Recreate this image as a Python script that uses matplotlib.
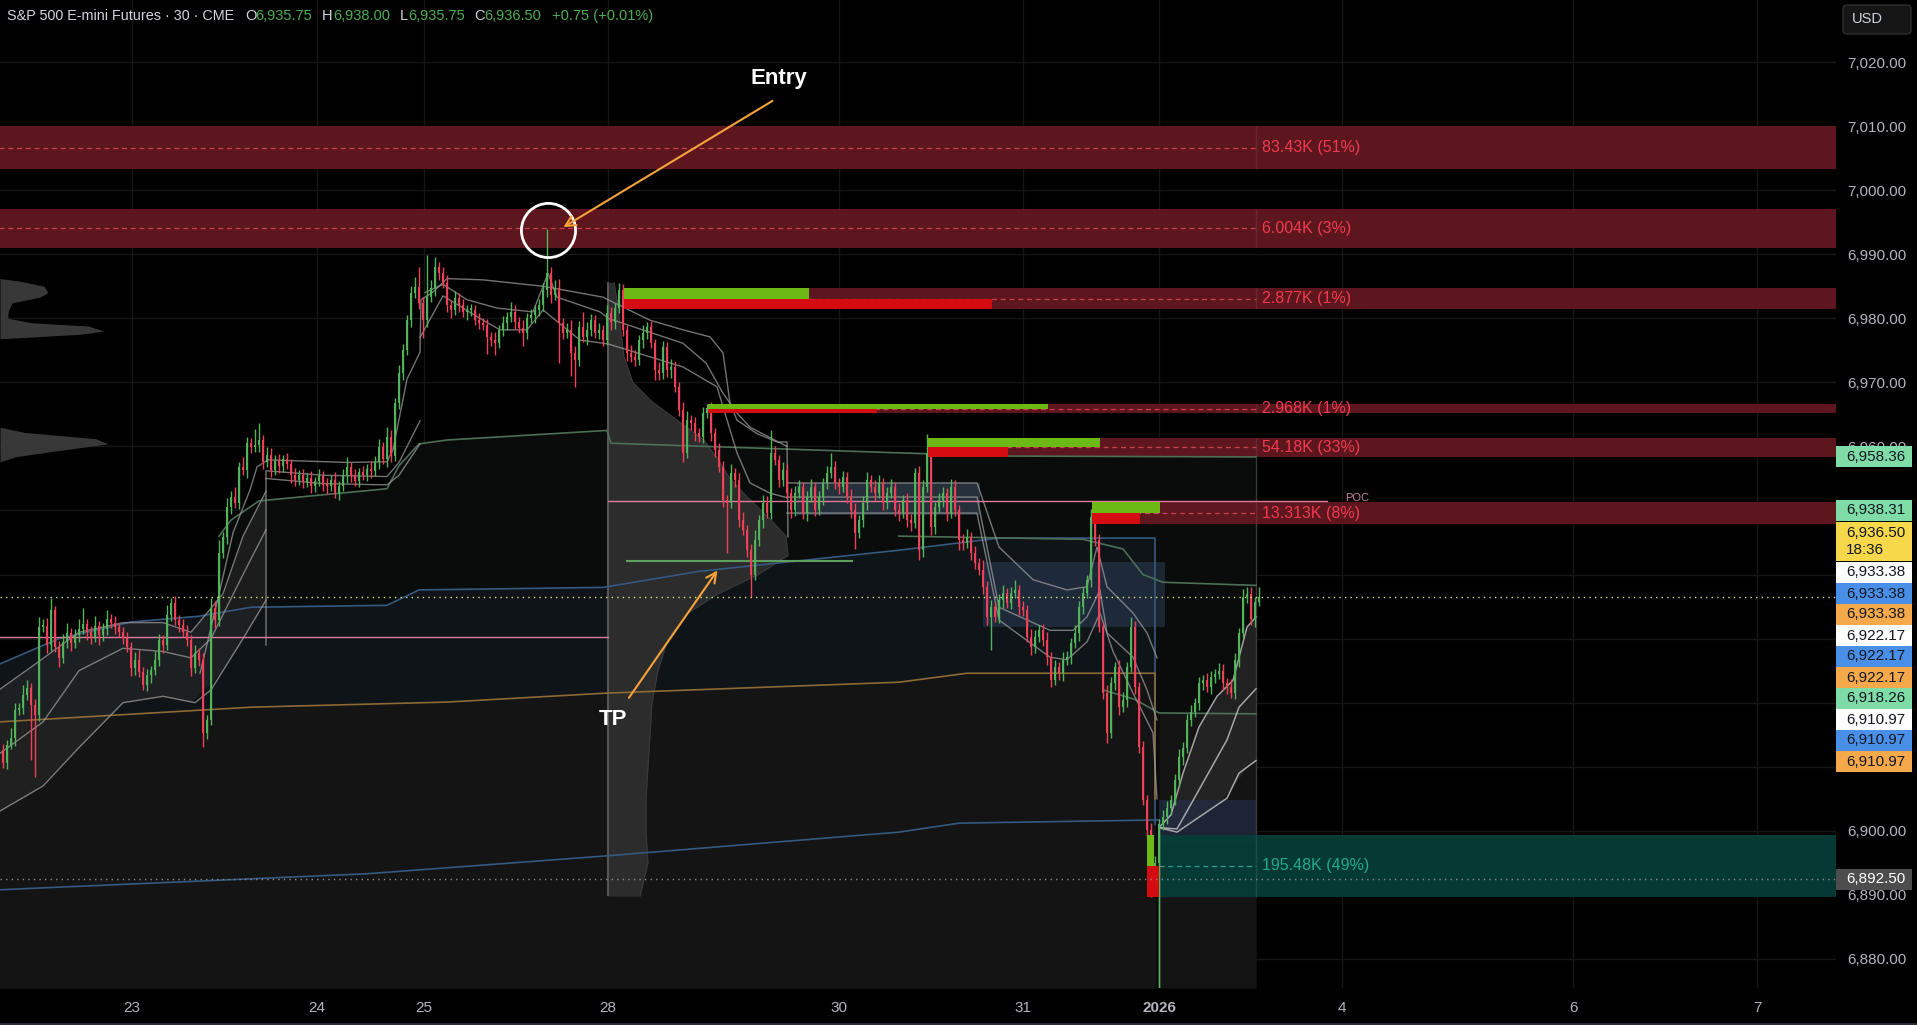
import numpy as np
import matplotlib.pyplot as plt
from matplotlib.patches import Rectangle, FancyBboxPatch

plt.rcParams['font.family'] = ['Liberation Sans', 'DejaVu Sans']

W, H = 1917, 1025

# ---------------- data ----------------
first_open = 6912.6
closes = [
    6910.6, 6913.4, 6914.5, 6918.9, 6919.2, 6921.2, 6922.3, 6919.6, 6918.1, 6931.8, 6932.0, 6929.0, 6934.5, 6928.7, 6927.0,
    6929.5, 6930.9, 6929.3, 6930.5, 6931.5, 6932.3, 6931.0, 6930.2, 6932.0, 6930.5, 6931.5, 6933.0, 6932.4, 6931.8, 6931.0,
    6930.1, 6928.7, 6925.4, 6926.7, 6924.8, 6922.8, 6924.3, 6925.1, 6926.7, 6929.8, 6929.0, 6933.7, 6935.6, 6932.9, 6932.1,
    6931.0, 6929.8, 6925.4, 6927.8, 6926.7, 6915.3, 6917.3, 6934.8, 6932.9, 6943.4, 6945.9, 6950.5, 6952.1, 6951.2, 6956.8,
    6956.3, 6960.5, 6959.9, 6960.2, 6961.0, 6957.6, 6958.7, 6956.3, 6957.8, 6957.0, 6958.0, 6957.2, 6955.5, 6954.8, 6955.5,
    6954.5, 6955.0, 6953.9, 6954.6, 6955.4, 6954.0, 6953.8, 6954.8, 6952.7, 6953.8, 6955.5, 6956.8, 6955.5, 6954.6, 6956.0,
    6955.6, 6956.5, 6956.2, 6957.5, 6959.9, 6958.0, 6961.5, 6958.5, 6966.8, 6971.5, 6975.0, 6979.7, 6983.9, 6984.9, 6982.4,
    6979.7, 6983.3, 6984.7, 6988.0, 6987.0, 6985.5, 6982.0, 6981.3, 6983.2, 6982.0, 6981.0, 6981.3, 6981.3, 6979.7, 6979.3,
    6978.9, 6977.1, 6976.6, 6976.1, 6978.2, 6979.3, 6980.2, 6981.0, 6979.4, 6978.5, 6977.7, 6980.0, 6980.5, 6981.3, 6982.0,
    6984.4, 6987.0, 6983.6, 6984.7, 6979.3, 6977.7, 6978.2, 6974.6, 6973.5, 6978.6, 6977.1, 6978.2, 6979.7, 6977.7, 6978.2,
    6976.6, 6980.8, 6979.4, 6981.6, 6984.4, 6978.2, 6974.6, 6974.0, 6973.5, 6976.6, 6977.7, 6978.6, 6976.1, 6971.9, 6971.4,
    6975.5, 6971.9, 6972.4, 6969.3, 6965.7, 6959.0, 6964.1, 6963.6, 6962.1, 6961.5, 6965.2, 6966.0, 6962.1, 6959.4, 6956.8,
    6951.6, 6951.2, 6955.8, 6954.8, 6948.5, 6947.0, 6943.8, 6939.9, 6945.4, 6948.5, 6951.2, 6949.6, 6959.0, 6957.9, 6954.8,
    6956.3, 6952.7, 6950.1, 6952.7, 6953.7, 6949.6, 6952.1, 6953.7, 6950.1, 6952.1, 6954.3, 6955.8, 6956.8, 6954.3, 6953.7,
    6955.2, 6952.1, 6950.1, 6946.5, 6948.5, 6951.2, 6954.8, 6953.7, 6952.7, 6954.3, 6951.2, 6952.7, 6953.7, 6950.1, 6949.6,
    6951.6, 6948.5, 6948.0, 6955.8, 6943.8, 6953.7, 6959.0, 6947.4, 6950.5, 6951.6, 6952.7, 6949.6, 6953.7, 6950.1, 6945.4,
    6944.9, 6945.9, 6943.4, 6941.8, 6940.7, 6938.0, 6933.4, 6934.9, 6933.4, 6936.0, 6937.1, 6935.6, 6937.1, 6937.6, 6934.9,
    6934.5, 6930.3, 6928.7, 6930.3, 6931.3, 6929.8, 6927.1, 6923.5, 6925.6, 6924.6, 6926.7, 6927.1, 6929.3, 6930.9, 6934.9,
    6937.1, 6939.2, 6949.0, 6945.4, 6931.8, 6921.5, 6915.3, 6923.0, 6925.6, 6919.3, 6920.4, 6925.6, 6931.8, 6922.5, 6913.1,
    6904.8, 6900.1, 6891.9, 6895.0, 6901.0, 6902.2, 6903.5, 6904.8, 6907.9, 6911.5, 6913.0, 6917.3, 6918.5, 6920.0, 6923.0,
    6923.5, 6922.5, 6924.0, 6924.5, 6925.0, 6923.0, 6922.5, 6921.5, 6926.7, 6930.9, 6936.5, 6937.0, 6933.0, 6935.7, 6936.5,
]
wick_up = [
    1.0, 0.8, 1.5, 1.0, 0.8, 1.5, 1.2, 0.8, 1.0, 1.5, 1.0, 1.2, 1.8, 0.6, 1.0,
    1.2, 1.5, 0.8, 1.0, 1.5, 2.5, 0.8, 1.0, 1.6, 0.7, 1.0, 1.5, 0.8, 1.2, 0.6,
    0.8, 1.0, 0.7, 1.2, 1.5, 0.8, 1.0, 0.6, 1.4, 1.0, 0.8, 1.5, 0.7, 1.0, 0.8,
    0.9, 1.1, 0.8, 1.2, 0.7, 1.0, 0.8, 1.5, 1.0, 2.0, 0.8, 1.5, 1.0, 1.5, 0.8,
    1.5, 1.0, 0.8, 2.5, 2.7, 0.8, 1.2, 1.0, 0.8, 1.0, 0.7, 1.0, 0.8, 1.2, 0.8,
    1.0, 0.8, 1.2, 0.7, 1.0, 0.8, 1.0, 0.7, 1.2, 0.8, 1.0, 1.5, 0.8, 1.0, 0.7,
    1.0, 0.8, 1.2, 1.0, 1.3, 0.8, 1.5, 1.0, 0.8, 1.2, 1.0, 0.8, 1.2, 1.5, 3.1,
    1.0, 6.6, 1.2, 1.5, 0.8, 1.0, 1.2, 0.8, 1.0, 0.8, 1.0, 0.7, 1.0, 0.8, 1.2,
    0.8, 1.0, 0.7, 1.2, 0.8, 1.0, 0.8, 1.5, 1.0, 0.8, 1.2, 0.8, 1.0, 0.7, 1.0,
    1.1, 7.0, 1.0, 1.2, 1.5, 0.8, 1.0, 1.5, 1.0, 1.0, 2.4, 1.2, 1.0, 0.8, 1.0,
    0.8, 1.2, 1.0, 0.8, 1.1, 1.0, 0.8, 1.2, 1.0, 0.8, 1.2, 0.8, 1.0, 0.7, 1.2,
    1.0, 0.8, 1.2, 1.0, 0.8, 1.2, 1.5, 0.8, 1.0, 0.7, 1.0, 0.6, 1.0, 0.8, 1.2,
    1.0, 0.8, 1.5, 0.8, 1.0, 1.2, 0.8, 1.0, 1.5, 0.8, 1.2, 1.0, 3.6, 1.0, 0.8,
    1.2, 1.0, 0.8, 1.2, 1.0, 0.8, 1.0, 1.2, 0.8, 1.0, 0.8, 1.2, 2.2, 1.0, 0.8,
    1.0, 0.8, 1.2, 1.0, 0.8, 1.0, 1.2, 0.8, 1.0, 1.2, 0.8, 1.0, 1.2, 0.8, 1.0,
    0.8, 1.2, 1.0, 0.8, 1.2, 1.0, 3.0, 1.0, 0.8, 1.2, 1.0, 0.8, 1.2, 1.0, 0.8,
    1.0, 1.2, 0.8, 1.0, 0.8, 1.5, 1.0, 1.2, 0.8, 1.0, 1.2, 0.8, 1.0, 1.5, 0.8,
    1.0, 0.8, 1.2, 1.0, 0.8, 1.0, 1.2, 0.8, 1.0, 0.8, 1.2, 1.0, 0.8, 1.2, 1.0,
    1.0, 0.8, 1.2, 1.5, 1.0, 0.8, 1.2, 1.0, 0.8, 1.0, 1.2, 0.8, 1.5, 1.0, 0.8,
    1.0, 0.8, 1.2, 1.0, 0.8, 1.0, 1.2, 0.8, 1.0, 1.2, 0.8, 1.0, 1.2, 0.8, 1.0,
    0.8, 1.2, 1.0, 0.8, 1.2, 1.0, 0.8, 1.2, 1.0, 0.8, 1.2, 1.0, 1.0, 0.8, 1.5,
]
wick_dn = [
    0.8, 1.0, 0.7, 1.2, 0.8, 1.0, 0.8, 8.5, 9.7, 1.0, 0.8, 1.2, 1.0, 0.8, 1.5,
    0.8, 1.0, 1.2, 0.7, 1.0, 0.8, 1.2, 1.0, 0.8, 1.5, 0.8, 1.0, 0.7, 1.0, 0.8,
    1.0, 0.8, 1.2, 1.0, 0.8, 0.8, 1.0, 1.2, 0.8, 1.0, 1.2, 0.8, 1.0, 0.8, 1.0,
    0.8, 1.0, 1.2, 0.8, 1.0, 2.2, 1.0, 0.8, 1.2, 1.0, 0.8, 1.2, 1.0, 0.8, 1.0,
    0.8, 1.2, 1.0, 0.8, 1.0, 1.2, 0.8, 1.0, 0.8, 1.2, 1.0, 0.8, 1.2, 1.0, 0.8,
    1.0, 0.8, 1.2, 1.0, 0.8, 1.0, 1.2, 0.8, 0.7, 1.0, 0.8, 1.2, 1.0, 0.8, 1.0,
    0.8, 1.0, 1.2, 0.8, 1.0, 0.8, 1.2, 1.0, 0.8, 1.0, 1.2, 0.8, 1.0, 0.8, 1.0,
    2.7, 1.0, 0.8, 1.2, 1.0, 0.8, 1.0, 1.2, 0.8, 1.0, 0.8, 1.2, 1.0, 0.8, 1.0,
    0.8, 2.6, 1.0, 1.8, 0.8, 1.0, 1.2, 0.8, 1.0, 0.8, 2.0, 1.0, 0.8, 1.2, 1.0,
    0.8, 1.0, 1.2, 0.8, 6.3, 1.0, 0.8, 3.6, 4.2, 1.0, 0.8, 1.2, 1.0, 0.8, 1.0,
    1.0, 0.8, 1.2, 1.0, 0.8, 1.0, 1.2, 0.8, 1.0, 0.8, 1.2, 1.0, 0.8, 1.5, 1.0,
    0.8, 1.0, 1.2, 0.8, 1.0, 1.5, 0.8, 1.0, 1.2, 0.8, 1.0, 0.8, 1.2, 1.0, 0.8,
    1.0, 7.8, 0.8, 1.2, 1.0, 0.8, 1.0, 3.4, 0.8, 1.0, 1.2, 0.8, 1.0, 0.8, 1.2,
    1.0, 0.8, 1.2, 1.0, 0.8, 1.0, 1.2, 0.8, 1.0, 0.8, 1.2, 1.0, 0.8, 1.0, 1.2,
    0.8, 1.0, 1.2, 2.5, 0.8, 1.0, 1.2, 0.8, 1.0, 0.8, 1.2, 1.0, 0.8, 1.0, 1.2,
    0.8, 1.0, 1.2, 0.8, 1.5, 1.0, 0.8, 1.2, 1.0, 0.8, 1.0, 1.2, 0.8, 1.0, 1.5,
    1.0, 0.8, 1.2, 1.0, 0.8, 1.0, 1.2, 5.2, 0.8, 1.0, 1.2, 0.8, 1.0, 0.8, 1.2,
    1.0, 0.8, 1.2, 1.0, 0.8, 1.0, 1.2, 1.0, 0.8, 1.0, 1.2, 0.8, 1.0, 0.8, 1.2,
    1.0, 0.8, 1.2, 1.0, 0.8, 1.0, 1.6, 0.8, 1.0, 1.2, 0.8, 1.0, 0.8, 1.2, 1.0,
    0.8, 1.2, 2.2, 1.0, 22.0, 0.8, 1.2, 1.0, 0.8, 1.0, 1.2, 0.8, 1.0, 0.8, 1.2,
    1.0, 0.8, 1.2, 1.0, 0.8, 1.0, 1.2, 0.8, 1.0, 1.2, 0.8, 1.0, 0.8, 1.2, 0.6,
]

# day labels (bar positions)
day_pos = [32.25, 78.5, 105.25, 151.25, 209, 255, 289, 334.75, 392.5, 438.5]
day_lbl = ['23', '24', '25', '28', '30', '31', '2026', '4', '6', '7']

# supply / demand zones
zone_lo = [7003.3, 6991.0, 6981.4, 6965.2, 6958.4, 6947.9, 6889.7]
zone_hi = [7010.0, 6997.1, 6984.7, 6966.6, 6961.3, 6951.3, 6899.4]
zone_start = [-1, -1, 155.3, 176.3, 231.3, 272.3, 289.0]
zone_text = ['83.43K (51%)', '6.004K (3%)', '2.877K (1%)', '2.968K (1%)',
             '54.18K (33%)', '13.313K (8%)', '195.48K (49%)']
zone_bull = [False, False, False, False, False, False, True]
# buy / sell volume bars at zone origin
vb_start = [None, None, 155.3, 176.3, 231.3, 272.3, 286.0]
vb_green_end = [None, None, 201.5, 261.25, 274.25, 289.25, 287.75]
vb_red_end = [None, None, 247.25, 218.5, 251.25, 284.25, 289.0]

# indicator lines (bar, price knots)
blue_low = ([-1, 91, 151, 224, 239, 289], [6890.8, 6893.3, 6896.1, 6899.8, 6901.2, 6901.7])
blue_mid = ([-1, 14, 32, 49, 62, 96, 104, 150, 174, 224, 249, 288, 288],
            [6926, 6930, 6932.6, 6933.5, 6934.9, 6935.2, 6937.6, 6938, 6940.5, 6943.8, 6945.7, 6945.7, 6901])
orange = ([-1, 62, 111, 151, 224, 241, 288, 288],
          [6917, 6919.3, 6920.1, 6921.5, 6923.2, 6924.6, 6924.6, 6905])
green_top = ([54, 57, 64, 96, 99, 104, 111, 151, 152, 224, 249, 313.25],
             [6946, 6948.5, 6951.5, 6953.4, 6957, 6960.4, 6961, 6962.5, 6960.5, 6959, 6958.5, 6958.36])
green_mid = ([224, 270, 280, 285, 290, 313.25], [6946, 6945.5, 6944, 6940, 6938.8, 6938.31])
green_low = ([275, 283, 289, 313.25], [6922, 6920.5, 6918.4, 6918.26])

grey_lines = [
    ([-1, 8, 19, 30, 40, 47, 55, 60, 65.75], [6922, 6926, 6931, 6932.5, 6932.5, 6931, 6937, 6946, 6953]),
    ([-1, 10, 19, 30, 40, 47, 52, 60, 65.75], [6912, 6917, 6925, 6928.5, 6928, 6927, 6930, 6940, 6947]),
    ([-1, 10, 19, 30, 40, 48, 52, 60, 65.75], [6903, 6907, 6913, 6920, 6921, 6920, 6922, 6930, 6936]),
    ([49.25, 54.25, 57.5, 61.75, 63.5, 66.25, 86, 96, 97.5, 101, 104.25, 104.5, 107.5, 111, 120, 135, 150, 151.25,
      161.75, 170, 176.75, 180, 181.75, 183.5, 188.5, 193.5, 196, 196.25],
     [6924.6, 6937.6, 6946.5, 6953.2, 6956.8, 6957.9, 6957.5, 6957.6, 6959.5, 6970.5, 6974.7, 6982.9, 6984.1, 6986.2,
      6986, 6985, 6983.3, 6982.9, 6979.7, 6978.2, 6977.1, 6974.6, 6966.8, 6964.1, 6962, 6960.7, 6960.7, 6945.9]),
    ([65.75, 65.75, 80, 96, 99, 104.25], [6929, 6956.2, 6955.5, 6955.3, 6957.5, 6964]),
    ([65.75, 80, 96, 99, 104.25], [6955, 6954.2, 6954, 6955.5, 6960.4]),
    ([105.5, 110, 116, 123.5, 132.5, 136.25, 138.5, 149.25, 151.25, 170, 175.75, 180, 183.5, 186.75, 196],
     [6984, 6985.3, 6982.9, 6981.6, 6981, 6987, 6983.3, 6981, 6980, 6976.1, 6973, 6968.3, 6965.2, 6963, 6960]),
    ([104.25, 110, 120, 124.25, 131, 135, 144.25, 151.25, 170, 178.5, 183.5, 186.75, 191.75, 196],
     [6977, 6983.5, 6979.7, 6978.2, 6978.2, 6981.3, 6976.6, 6976, 6972.4, 6969.3, 6959, 6954.3, 6952.7, 6952]),
    ([196, 243.5, 249, 257.5, 266, 271, 273.5, 276, 282.5, 286, 288.5],
     [6954.3, 6954.3, 6944.3, 6939.2, 6937.6, 6938.1, 6944.3, 6938.1, 6934, 6930.9, 6927]),
    ([196, 243.5, 249, 261.75, 267.5, 271, 274.25, 276, 282.5, 286, 288.5],
     [6952.1, 6952.1, 6934.9, 6931.3, 6931.3, 6933.4, 6937.6, 6930.9, 6927.1, 6922, 6917.3]),
    ([196, 243.5, 249, 261.75, 266, 271, 274.25, 277.5, 282.5, 287.5, 288.5],
     [6949.6, 6949.6, 6932.9, 6927.1, 6926.7, 6929.5, 6934, 6928, 6921.5, 6915.3, 6905]),
]
# post-gap VWAP band (end values match the price tags)
band_up = ([289, 292, 295, 299, 303.5, 307.5, 311, 313.25], [6900.5, 6902.5, 6909, 6916.2, 6921, 6923.5, 6931.8, 6933.38])
band_mid = ([289, 293.5, 299, 306, 309, 313.25], [6900.5, 6900.3, 6906.4, 6914.2, 6919.3, 6922.17])
band_lo = ([289, 293.5, 306, 309, 313.25], [6900.5, 6899.8, 6905.1, 6909, 6910.97])

# volume profiles: price levels and width (in bars)
vp_price = [6985.6, 6982, 6978, 6974, 6970, 6967, 6964, 6961, 6958, 6955, 6952, 6949, 6946, 6943, 6940,
            6937, 6934, 6930, 6925, 6920, 6915, 6910, 6905, 6900, 6895, 6889.8]
vp_width = [1.5, 2.5, 3.2, 4, 6.2, 11, 17.5, 24, 27.5, 30.5, 35, 40, 44.5, 45, 37.5,
            27.5, 20, 15, 12.5, 11, 10.5, 10, 9.5, 9.5, 10, 8]
vp0_price = [6986.2, 6985.8, 6985.0, 6984.0, 6983.3, 6982.4, 6981.0, 6980.0, 6979.3, 6978.8, 6978.0, 6977.5,
             6976.8, 6963.0, 6962.2, 6961.2, 6960.4, 6959.3, 6958.4, 6957.6]
vp0_width = [0, 5, 11, 12, 10, 3, 2, 2, 8, 22, 26, 20,
             0, 0, 6, 24, 27, 14, 4, 0]

# value-area boxes: x0, x1, lo, hi
va_boxes = [(198.5, 244.25, 6949.3, 6954.3), (245, 290.5, 6931.8, 6942.0), (289, 313.25, 6897.9, 6904.8)]

poc_left = (-1, 151.25, 6930.3)
poc_right = (151.25, 331, 6951.5)
tp_line = (156, 212.25, 6942.1)
entry_bar, entry_price = 136, 6994.0
tp_target = (179, 6941.0)
last_price = 6936.5
gap_low_price = 6892.5

tag_prices = [6938.31, 6936.50, 6933.38, 6933.38, 6933.38, 6922.17, 6922.17, 6922.17,
              6918.26, 6910.97, 6910.97, 6910.97]
tag_colors = ['#7fdca6', '#f7d84a', '#ffffff', '#4a8fe7', '#f6a94a', '#ffffff', '#4a8fe7', '#f6a94a',
              '#7fdca6', '#ffffff', '#4a8fe7', '#f6a94a']

# ---------------- style ----------------
GREEN, RED = '#52b45a', '#ee4158'
ZONE_RED, ZONE_GREEN = '#631820', '#063e37'
TXT_RED, TXT_GREEN = '#f03a4f', '#22a88f'
ORANGE = '#f7a23a'
AXIS_TXT = '#b2b5be'

fig = plt.figure(figsize=(W / 100, H / 100), dpi=100, facecolor='black')
ax = fig.add_axes([0, 37 / H, 1836 / W, 988 / H])
ax.set_facecolor('black')
ax.set_xlim(-0.75, 458.25)
ax.set_ylim(6875.47, 7029.68)
BOTTOM = 6875.47

for s in ax.spines.values():
    s.set_visible(False)

# grid + axes labels (labels under the tag stack are hidden, as on the chart)
yt = np.arange(6880, 7021, 10)
ax.set_yticks(yt)
ax.set_yticklabels(['' if 6905 < v < 6955 else f'{v:,.2f}' for v in yt])
ax.set_xticks(day_pos)
ax.set_xticklabels(day_lbl)
ax.grid(True, color='#161616', lw=1)
ax.set_axisbelow(True)
ax.yaxis.tick_right()
ax.tick_params(axis='y', length=0, pad=8, labelsize=11, labelcolor=AXIS_TXT)
ax.tick_params(axis='x', length=0, pad=9, labelsize=11, labelcolor=AXIS_TXT)
for t in ax.get_xticklabels():
    if t.get_text() == '2026':
        t.set_fontweight('bold')

# background fills
ax.fill_between(green_top[0], green_top[1], BOTTOM, color='#090c0a', lw=0, zorder=0.6)
ax.fill_between(blue_mid[0], blue_mid[1], BOTTOM, color='#0f1419', lw=0, zorder=0.7)
ax.fill_between(orange[0], orange[1], BOTTOM, color='#141414', lw=0, zorder=0.8)
ax.fill_between(green_low[0][2:], green_low[1][2:], BOTTOM, color='#141414', lw=0, zorder=0.8)
# session band fills
ax.fill_between(grey_lines[0][0], grey_lines[0][1], np.interp(grey_lines[0][0], grey_lines[2][0], grey_lines[2][1]),
                color='#2a2a2a', alpha=0.55, lw=0, zorder=0.9)
ax.fill_between(band_up[0], band_up[1], np.interp(band_up[0], band_lo[0], band_lo[1]),
                color='#2a2a2a', alpha=0.7, lw=0, zorder=0.9)

# volume profiles
vp_base = poc_left[1]
ax.fill_betweenx(vp_price, vp_base, vp_base + np.array(vp_width), color='#2c2c2c', lw=0, zorder=1.0)
ax.plot(vp_base + np.array(vp_width), vp_price, color='#3a3a3a', lw=0.8, zorder=1.0)
ax.vlines(vp_base, vp_price[-1], vp_price[0], color='#555555', lw=1.5, zorder=1.05)
ax.fill_betweenx(vp0_price, -0.75, -0.75 + np.array(vp0_width), color='#383838', lw=0, zorder=1.0)

# value area boxes
for (x0, x1, lo, hi), c, a in zip(va_boxes, ['#5a7594', '#2e405a', '#22304d'], [0.35, 0.5, 0.6]):
    ax.add_patch(Rectangle((x0, lo), x1 - x0, hi - lo, fc=c, ec='none', alpha=a, zorder=1.1))
ax.vlines(313.25, gap_low_price - 2.8, green_top[1][-1], color='#3a3a3a', lw=1, zorder=1.1)

# zones
label_x = 313.25
for lo, hi, x0, txt, bull in zip(zone_lo, zone_hi, zone_start, zone_text, zone_bull):
    fc = ZONE_GREEN if bull else ZONE_RED
    tc = TXT_GREEN if bull else TXT_RED
    dc = '#2a9d8a' if bull else '#c8404f'
    ax.add_patch(Rectangle((x0, lo), 460 - x0, hi - lo, fc=fc, ec='none', alpha=0.95, zorder=1.5))
    mid = (lo + hi) / 2
    ax.plot([x0, label_x], [mid, mid], color=dc, lw=0.9, ls=(0, (4, 3)), zorder=1.6)
    ax.vlines(label_x, lo, hi, color='#ffffff', alpha=0.08, lw=1, zorder=1.56)
    ax.text(label_x + 1.6, mid, txt, color=tc, fontsize=11.5, va='center', ha='left', zorder=6)

# indicator lines
ax.plot(*blue_low, color='#36597f', lw=1.2, zorder=2)
ax.plot(*blue_mid, color='#36597f', lw=1.2, zorder=2)
ax.plot(*orange, color='#8c6a36', lw=1.2, zorder=2)
ax.plot(*green_top, color='#4d6f58', lw=1.2, zorder=2)
ax.plot(*green_mid, color='#4d6f58', lw=1.2, zorder=2)
ax.plot(*green_low, color='#4d6f58', lw=1.2, zorder=2)
for xs, ps in grey_lines:
    ax.plot(xs, ps, color='#9a9a9a', lw=1, alpha=0.75, zorder=2.1)
for xs, ps in (band_up, band_mid, band_lo):
    ax.plot(xs, ps, color='#bdbdbd', lw=1.1, alpha=0.85, zorder=2.1)
ax.vlines(289.0, BOTTOM, 6901, color='#8a8a8a', lw=1, zorder=2.1)

# POC and TP lines
ax.plot(poc_left[:2], [poc_left[2]] * 2, color='#e07a9e', lw=1, zorder=2.2)
ax.plot(poc_right[:2], [poc_right[2]] * 2, color='#e07a9e', lw=1, zorder=2.2)
ax.text(poc_right[1] + 4.5, poc_right[2] + 0.4, 'POC', color='#c77fa0', fontsize=8, va='center', ha='left', zorder=6)
ax.plot(tp_line[:2], [tp_line[2]] * 2, color='#5fa05f', lw=1.5, zorder=2.2)

# candles
c = np.array(closes)
o = np.r_[first_open, c[:-1]]
idx = np.arange(len(c))
hi = np.maximum(o, c) + np.array(wick_up)
lo = np.minimum(o, c) - np.array(wick_dn)
cols = np.where(c >= o, GREEN, RED)
ax.vlines(idx, lo, hi, colors=cols, lw=1, zorder=3)
ax.bar(idx, np.maximum(np.abs(c - o), 0.3), bottom=np.minimum(o, c), width=0.72, color=cols, lw=0, zorder=3.1)

# buy/sell bars at zone origins
for s, ge, re, zl, zh in zip(vb_start, vb_green_end, vb_red_end, zone_lo, zone_hi):
    if s is None:
        continue
    m = (zl + zh) / 2
    ax.add_patch(Rectangle((s, m), ge - s, zh - m, fc='#6cb814', ec='none', zorder=3.5))
    ax.add_patch(Rectangle((s, zl), re - s, m - zl, fc='#d50b12', ec='none', zorder=3.5))

# price lines
ax.axhline(last_price, color='#dcdc8a', lw=1, ls=(0, (1, 3)), zorder=4)
ax.axhline(gap_low_price, color='#8a8a8a', lw=1, ls=(0, (1, 3)), zorder=4)

# annotations
ax.plot(entry_bar + 0.25, entry_price - 0.2, marker='o', ms=39, mfc='none', mec='white', mew=2, zorder=7)
ax.annotate('', xy=(entry_bar + 3.5, entry_price), xytext=(154, 93), textcoords='offset points',
            arrowprops=dict(arrowstyle='->', color=ORANGE, lw=1.5, mutation_scale=18), zorder=7)
ax.annotate('Entry', xy=(entry_bar + 3.5, entry_price), xytext=(157, 108), textcoords='offset points',
            color='white', fontsize=16, fontweight='bold', ha='center', va='center', zorder=7)
ax.annotate('', xy=tp_target, xytext=(-66, -95), textcoords='offset points',
            arrowprops=dict(arrowstyle='->', color=ORANGE, lw=1.5, mutation_scale=18), zorder=7)
ax.annotate('TP', xy=tp_target, xytext=(-76, -109), textcoords='offset points',
            color='white', fontsize=16, fontweight='bold', ha='center', va='center', zorder=7)

# header
hy = 1 - 16 / H
fig.text(7 / W, hy, 'S&P 500 E-mini Futures \u00b7 30 \u00b7 CME', color='#d1d4dc', fontsize=10.4, va='center')
hdr = [('O', 245, '6,935.75', 255), ('H', 322, '6,938.00', 333), ('L', 400, '6,935.75', 408),
       ('C', 474, '6,936.50', 484)]
for k, kx, v, vx in hdr:
    fig.text(kx / W, hy, k, color='#d1d4dc', fontsize=10.5, va='center')
    fig.text(vx / W, hy, v, color='#4caf50', fontsize=10.5, va='center')
fig.text(552 / W, hy, '+0.75 (+0.01%)', color='#4caf50', fontsize=10.5, va='center')

# right-axis tags
def tag(y_top, h, fc, text, tc='#131722'):
    fig.add_artist(Rectangle((1836 / W, 1 - (y_top + h) / H), 76 / W, h / H, transform=fig.transFigure,
                             fc=fc, ec='none', zorder=10))
    fig.text(1846 / W, 1 - (y_top + h / 2) / H, text, color=tc, fontsize=11, va='center', ha='left',
             zorder=11, linespacing=1.35)

def price_to_px(p):
    return H - ax.transData.transform((0, p))[1]

tag(price_to_px(6958.36) - 10.5, 21, '#7fdca6', '6,958.36')
y = 500
for p, col in zip(tag_prices, tag_colors):
    if p == last_price:
        tag(y + 1, 39, col, f'{p:,.2f}\n18:36')
        y += 41
    else:
        tag(y, 21, col, f'{p:,.2f}')
        y += 21
tag(price_to_px(gap_low_price) - 10, 21, '#4d4d4d', f'{gap_low_price:,.2f}', tc='#ffffff')

# USD box
fig.add_artist(FancyBboxPatch((1843 / W, 1 - 34 / H), 68 / W, 29 / H, boxstyle='round,pad=0,rounding_size=0.003',
                              transform=fig.transFigure, fc='#161616', ec='#2e2e2e', lw=1, zorder=10))
fig.text(1852 / W, 1 - 19 / H, 'USD', color='#d1d4dc', fontsize=10.5, va='center', zorder=11)

# bottom border
fig.add_artist(plt.Line2D([0, 1], [1.5 / H, 1.5 / H], transform=fig.transFigure, color='#2a2e39', lw=2))

fig.savefig('out.png', dpi=100, facecolor='black')
